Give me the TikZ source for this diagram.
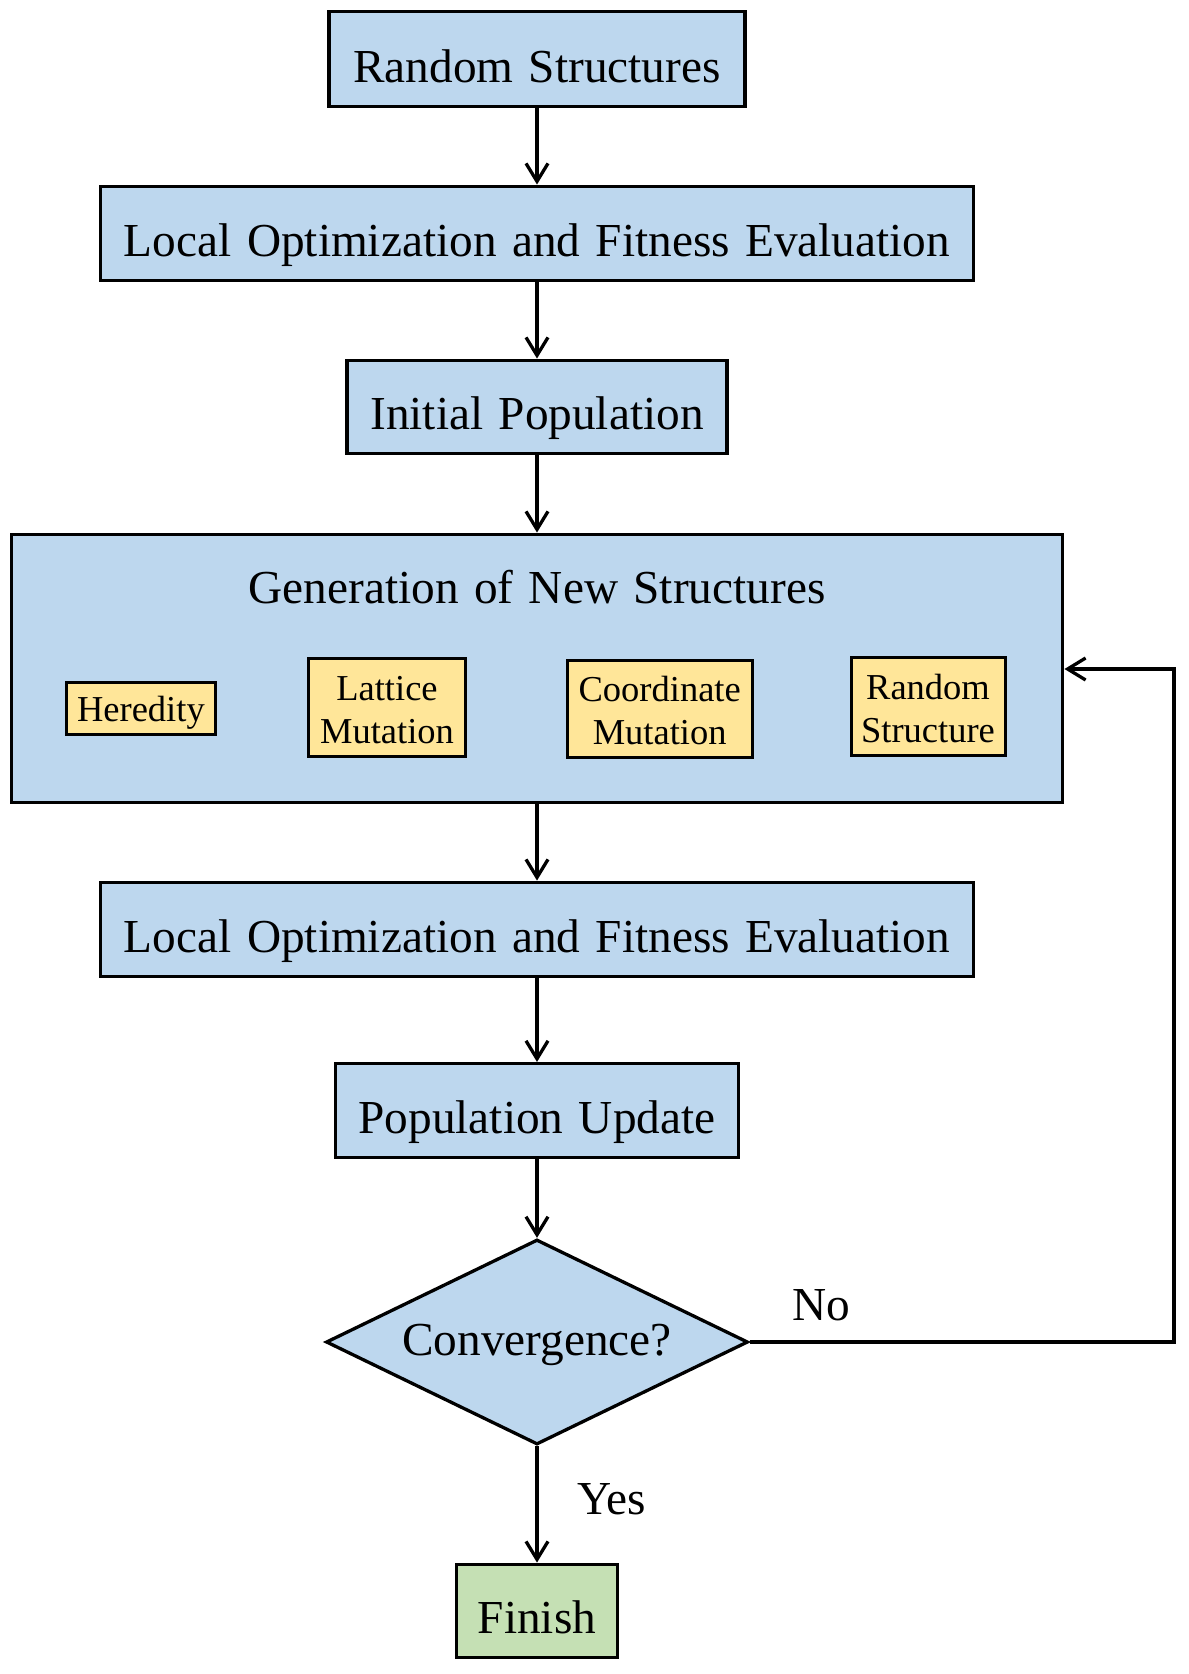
\documentclass[tikz,border=0pt]{standalone}
\usepackage{fontspec}
\setmainfont[WordSpace=1.3]{Liberation Serif}
\usetikzlibrary{shapes.geometric,arrows.meta}
\definecolor{boxblue}{HTML}{BDD7EE}
\definecolor{boxyellow}{HTML}{FFE699}
\definecolor{boxgreen}{HTML}{C5E0B4}
\begin{document}
\begin{tikzpicture}[x=1bp,y=-1bp,
  bigfont/.style={font=\fontsize{47.3bp}{56bp}\selectfont},
  mainbox/.style={draw=black, line width=3.3bp, fill=boxblue, inner sep=0pt, bigfont, text height=55.5bp, text depth=9.4bp},
  subbox/.style={draw=black, line width=3bp, fill=boxyellow, inner sep=0pt, font=\fontsize{36.5bp}{43bp}\selectfont, align=center, text height=34.7bp, text depth=7.3bp},
  twoline/.style={text height=78.3bp, text depth=7.3bp},
  lbl/.style={inner sep=0pt, bigfont, text height=31bp, text depth=0pt},
  flow/.style={line width=3.3bp, -{Straight Barb[length=18bp,width=22bp]}}
]
\useasboundingbox (0,0) rectangle (1188,1674);

\node[mainbox, minimum width=416bp, minimum height=95bp] (rs) at (537,59) {Random Structures};
\node[mainbox, minimum width=873bp, minimum height=94bp] (lo1) at (537,233.2) {Local Optimization and Fitness Evaluation};
\node[mainbox, minimum width=380bp, minimum height=93bp] (ip) at (537,406.7) {Initial Population};
\node[mainbox, minimum width=1051.6bp, minimum height=268bp] (gen) at (537,668.2) {};
\node[lbl] (gent) at (537,588) {Generation of New Structures};
\node[subbox, minimum width=149bp, minimum height=52bp] (her) at (140.9,708.2) {Heredity};
\node[subbox, twoline, minimum width=157bp, minimum height=98bp] (lat) at (387,707.5) {Lattice\\Mutation};
\node[subbox, twoline, minimum width=185bp, minimum height=97.5bp] (coo) at (659.7,708.8) {Coordinate\\Mutation};
\node[subbox, twoline, minimum width=154bp, minimum height=97.5bp] (rst) at (928,706.6) {Random\\Structure};
\node[mainbox, minimum width=873bp, minimum height=94bp] (lo2) at (537,929.2) {Local Optimization and Fitness Evaluation};
\node[mainbox, minimum width=403bp, minimum height=94bp] (pu) at (537,1110.6) {Population Update};
\node[diamond, shape aspect=2.05, draw=black, line width=3.3bp, fill=boxblue, inner sep=0pt, minimum width=422bp, minimum height=205bp, bigfont, text height=35bp, text depth=9bp] (dia) at (537,1342) {Convergence?};
\node[mainbox, fill=boxgreen, minimum width=161bp, minimum height=93bp] (fin) at (537,1610.7) {Finish};

\node[lbl] (yes) at (611.6,1499) {Yes};
\node[lbl] (no) at (821,1305) {No};

\coordinate (c1) at (1174,1342);
\coordinate (c2) at (1174,669);

\draw[flow] (rs.south) -- (lo1.north);
\draw[flow] (lo1.south) -- (ip.north);
\draw[flow] (ip.south) -- (gen.north);
\draw[flow] (gen.south) -- (lo2.north);
\draw[flow] (lo2.south) -- (pu.north);
\draw[flow] (pu.south) -- (dia.north);
\draw[flow] (dia.south) -- (fin.north);
\draw[flow] (dia.east) -- (c1) -- (c2) -- (gen.east |- c2);
\end{tikzpicture}
\end{document}
